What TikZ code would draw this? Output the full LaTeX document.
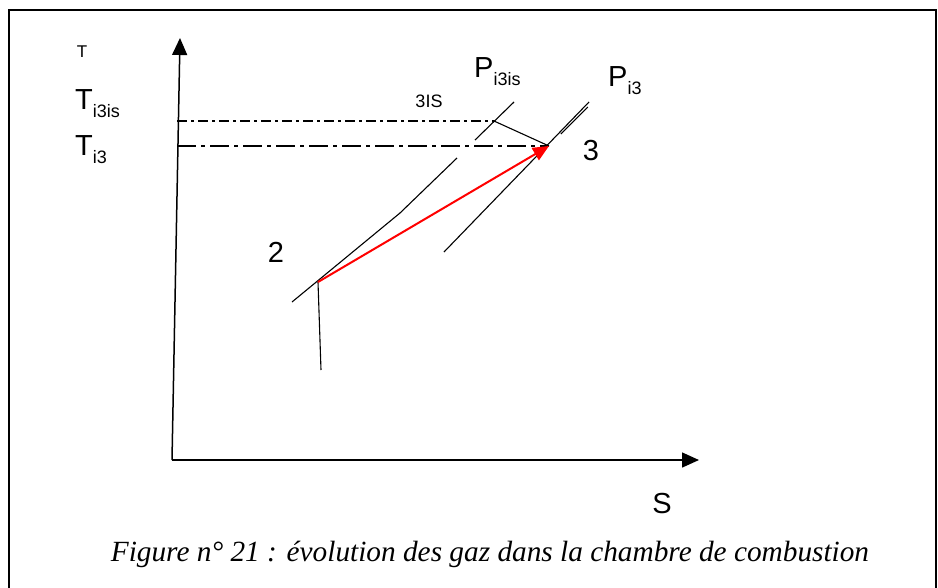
\documentclass[tikz,border=0pt]{standalone}
\usepackage{fontspec}
\setmainfont{Liberation Sans}
\newfontfamily\capfont{Liberation Serif}
\usetikzlibrary{arrows.meta}
\newcommand{\mysub}[1]{\raisebox{-0.28em}{\fontsize{18}{18}\selectfont #1}}
\tikzset{
  lbl/.style={inner sep=0pt, font=\fontsize{29}{29}\selectfont},
  thin line/.style={line width=1.1pt, black},
  axis/.style={line width=1.5pt, -{Triangle[length=17pt,width=15pt]}},
  ddot/.style={line width=1.1pt, dash pattern=on 10pt off 4pt on 3pt off 4pt},
  ddash/.style={line width=1.2pt, dash pattern=on 19pt off 5pt on 4pt off 5pt},
  redarrow/.style={line width=2pt, red, -{Triangle[length=16pt,width=14pt]}}
}
\begin{document}
\begin{tikzpicture}[x=1pt,y=-1pt]
\useasboundingbox (0,0) rectangle (938,587);
% frame
\draw[line width=1.6pt] (9,600) -- (9,10) -- (936,10) -- (936,600);
% coordinates
\coordinate (O) at (172,460);
\coordinate (Ytop) at (180,38);
\coordinate (Xend) at (699,460);
\coordinate (Y1) at (177,121);
\coordinate (Y2) at (177,146);
\coordinate (P3is) at (494,121);
\coordinate (P3) at (549,146);
\coordinate (P2) at (318,282);
\coordinate (P2b) at (321,370);
\coordinate (Aa) at (292,302);
\coordinate (Ab) at (400,213);
\coordinate (Ac) at (457,158);
\coordinate (Ad) at (475,140);
\coordinate (Ae) at (514,102);
\coordinate (Ba) at (444,252);
\coordinate (Bb) at (589,102);
\coordinate (Bc) at (559,134);
\coordinate (Bd) at (586,107);
% axes
\draw[axis] (O) -- (Ytop);
\draw[axis] (O) -- (Xend);
% dash-dot levels
\draw[ddot] (Y1) -- (P3is);
\draw[ddash] (Y2) -- (P3);
% isobar Pi3is
\draw[thin line] (Aa) -- (Ab) -- (Ac);
\draw[thin line] (Ad) -- (Ae);
% isobar Pi3
\draw[thin line] (Ba) -- (Bb);
\draw[thin line] ([xshift=1.8pt]Bc) -- ([xshift=1.8pt]Bd);
% 3is to 3
\draw[thin line] (P3is) -- (P3);
% vertical from 2
\draw[thin line] (P2) -- (P2b);
% red evolution
\draw[redarrow] (P2) -- (P3);
% labels
\node[lbl, font=\fontsize{17}{17}\selectfont, anchor=base] (lT) at (82,57) {T};
\node[lbl, anchor=base west] (lT3is) at (75,109) {T\mysub{i3is}};
\node[lbl, anchor=base west] (lT3) at (75,155) {T\mysub{i3}};
\node[lbl, font=\fontsize{18}{18}\selectfont, anchor=base] (l3is) at (429,107) {3IS};
\node[lbl, anchor=base west] (lP3is) at (474,77) {P\mysub{i3is}};
\node[lbl, anchor=base west] (lP3) at (608,86) {P\mysub{i3}};
\node[lbl, anchor=base] (l3) at (591,160) {3};
\node[lbl, anchor=base] (l2) at (276,262) {2};
\node[lbl, anchor=base] (lS) at (662,513) {S};
\node[inner sep=0pt, anchor=base, font=\capfont\itshape\fontsize{29.3}{29.3}\selectfont] (cap) at (490,561) {Figure n° 21 : évolution des gaz dans la chambre de combustion};
\end{tikzpicture}
\end{document}
